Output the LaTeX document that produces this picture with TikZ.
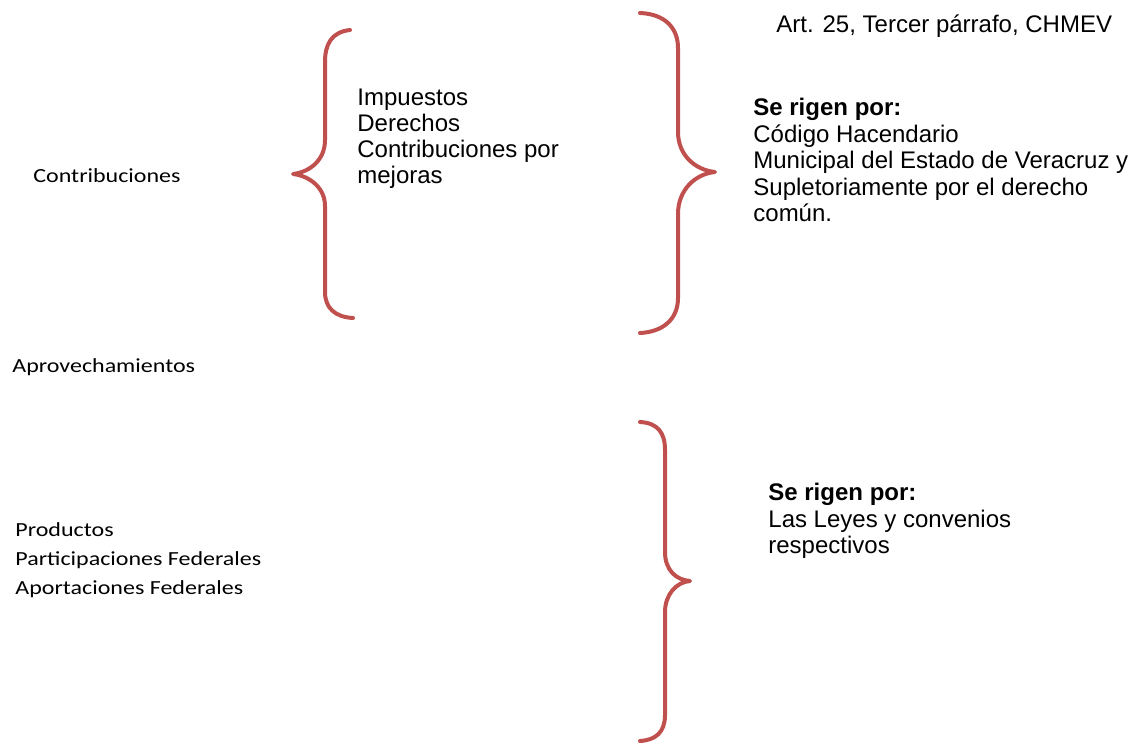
\documentclass[tikz,border=0pt]{standalone}
\usepackage{fontspec}
\setmainfont{Liberation Sans}
\newfontfamily\calibri[FakeStretch=1.2]{Carlito}
\definecolor{rojollave}{HTML}{C0504D}
\tikzset{
  llave/.style={draw=rojollave,line width=2pt,line cap=round,line join=round},
  concepto/.style={font=\calibri\fontsize{10}{14.5}\selectfont,
    inner sep=0pt,align=left},
  texto/.style={font=\fontsize{12}{13.25}\selectfont,
    inner sep=0pt,align=left}
}

\begin{document}
\begin{tikzpicture}[x=0.5pt,y=-0.5pt]
  \useasboundingbox (0,0) rectangle (1135,743);
  % conceptos de la izquierda
  \node[concepto,anchor=base west] (contrib) at (33,183) {Contribuciones};
  \node[concepto,anchor=base west] (aprov) at (12,372) {Aprovechamientos};
  \node[concepto,anchor=north west] (prod) at (15,522)
  {Productos\\Participaciones Federales\\Aportaciones Federales};
  % llave izquierda
  \draw[llave] (350,30) .. controls (331,32) and (325,45) .. (325,62)
    -- (325,140) .. controls (325,160) and (310,172) .. (293,174)
    .. controls (310,176) and (325,188) .. (325,206)
    -- (325,292) .. controls (325,308) and (335,317) .. (353,318);
  \node[texto,anchor=north west,font=\fontsize{12}{13}\selectfont] (tipos)
  at (357,89) {Impuestos\\Derechos\\Contribuciones por\\mejoras};
  % llaves derechas
  \draw[llave] (640,13) .. controls (665,14) and (678,28) .. (678,48)
    -- (678,132) .. controls (678,155) and (695,170) .. (715,172)
    .. controls (695,174) and (678,190) .. (678,214)
    -- (678,298) .. controls (678,320) and (662,332) .. (640,333);
  \draw[llave] (640,422) .. controls (658,423) and (665,433) .. (665,450)
    -- (665,552) .. controls (665,570) and (676,580) .. (690,581)
    .. controls (676,582) and (665,595) .. (665,612)
    -- (665,715) .. controls (665,732) and (656,740) .. (640,741);
  \node[texto,anchor=base west] (art) at (776,33)
  {Art. 25, Tercer párrafo, CHMEV};
  \node[texto,anchor=north west] (rige1) at (753,98)
  {\textbf{Se rigen por:}\\Código Hacendario\\Municipal del Estado de Veracruz y\\Supletoriamente por el derecho\\común.};
  \node[texto,anchor=north west] (rige2) at (768,483)
  {\textbf{Se rigen por:}\\Las Leyes y convenios\\respectivos};
\end{tikzpicture}
\end{document}
